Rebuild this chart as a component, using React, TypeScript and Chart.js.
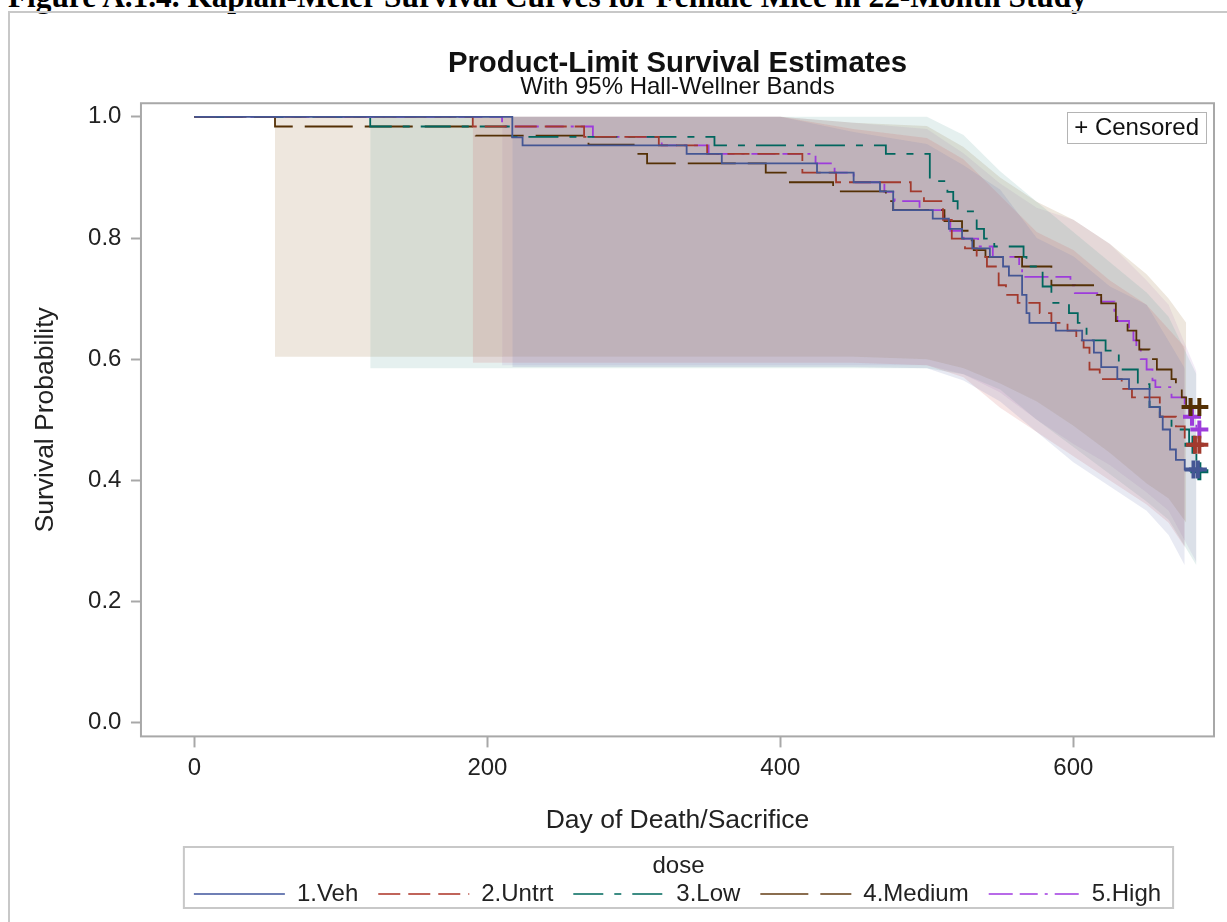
import React, { useEffect, useRef } from "react";
import { Chart, registerables } from "chart.js";

Chart.register(...registerables);

// ---------- data ----------
const groupNames = ["1.Veh", "2.Untrt", "3.Low", "4.Medium", "5.High"];
const xTickValues = [0, 200, 400, 600];
const yTickValues = [0, 0.2, 0.4, 0.6, 0.8, 1.0];

// Kaplan-Meier step points (day of event, survival after event)
const vehDays = [0, 217, 224, 336, 360, 425, 450, 468, 477, 504, 515, 524, 531, 543, 552, 556, 565, 568, 570, 588, 606, 614, 619, 630, 638, 652, 659, 661, 666, 670, 676, 685];
const vehSurv = [1.0, 0.966, 0.953, 0.939, 0.923, 0.908, 0.892, 0.877, 0.846, 0.832, 0.815, 0.799, 0.783, 0.769, 0.753, 0.738, 0.706, 0.676, 0.66, 0.647, 0.631, 0.611, 0.587, 0.567, 0.551, 0.521, 0.505, 0.484, 0.451, 0.434, 0.418, 0.418];
const untDays = [0, 190, 266, 317, 350, 415, 438, 489, 498, 511, 517, 526, 534, 541, 549, 554, 562, 577, 585, 596, 602, 607, 611, 618, 633, 640, 659, 670, 676, 686];
const untSurv = [1.0, 0.984, 0.967, 0.953, 0.939, 0.908, 0.892, 0.877, 0.861, 0.83, 0.799, 0.783, 0.769, 0.753, 0.722, 0.706, 0.693, 0.676, 0.66, 0.647, 0.631, 0.619, 0.583, 0.567, 0.551, 0.537, 0.505, 0.489, 0.459, 0.459];
const lowDays = [0, 120, 217, 355, 472, 502, 514, 518, 521, 534, 539, 546, 566, 568, 579, 585, 597, 603, 609, 622, 631, 644, 652, 659, 667, 679, 684, 686];
const lowSurv = [1.0, 0.984, 0.967, 0.953, 0.939, 0.894, 0.876, 0.861, 0.844, 0.815, 0.799, 0.786, 0.769, 0.753, 0.72, 0.693, 0.676, 0.66, 0.631, 0.614, 0.583, 0.559, 0.521, 0.505, 0.484, 0.459, 0.415, 0.415];
const medDays = [0, 55, 192, 269, 301, 309, 390, 405, 436, 472, 477, 512, 524, 529, 532, 540, 565, 585, 616, 619, 629, 637, 643, 645, 652, 657, 667, 670, 674, 677, 686];
const medSurv = [1.0, 0.984, 0.969, 0.954, 0.939, 0.923, 0.908, 0.892, 0.877, 0.861, 0.846, 0.828, 0.812, 0.796, 0.78, 0.769, 0.753, 0.722, 0.706, 0.692, 0.663, 0.647, 0.631, 0.616, 0.6, 0.583, 0.567, 0.551, 0.537, 0.521, 0.521];
const higDays = [0, 210, 272, 319, 351, 424, 437, 450, 471, 478, 495, 512, 516, 525, 535, 545, 563, 565, 598, 601, 619, 628, 630, 638, 641, 643, 646, 650, 654, 656, 667, 676, 679, 684, 686];
const higSurv = [1.0, 0.984, 0.967, 0.953, 0.939, 0.923, 0.908, 0.892, 0.876, 0.861, 0.846, 0.828, 0.812, 0.799, 0.786, 0.769, 0.753, 0.736, 0.722, 0.709, 0.695, 0.676, 0.663, 0.647, 0.631, 0.616, 0.6, 0.583, 0.565, 0.554, 0.537, 0.521, 0.505, 0.484, 0.484];

// censored observations
const vehCensDays = [682, 685];
const vehCensSurv = [0.418, 0.418];
const untCensDays = [683, 686];
const untCensSurv = [0.459, 0.459];
const lowCensDays = [682, 686];
const lowCensSurv = [0.459, 0.415];
const medCensDays = [680, 686];
const medCensSurv = [0.521, 0.521];
const higCensDays = [681, 686];
const higCensSurv = [0.505, 0.484];

// Hall-Wellner bands
const vehBandDays = [217, 400, 450, 500, 525, 550, 575, 600, 625, 650, 665, 676];
const vehBandHi = [1.0, 1.0, 0.975, 0.955, 0.92, 0.88, 0.8, 0.77, 0.72, 0.69, 0.63, 0.585];
const vehBandLo = [0.587, 0.587, 0.587, 0.585, 0.565, 0.53, 0.48, 0.43, 0.39, 0.35, 0.31, 0.26];
const untBandDays = [190, 400, 450, 500, 525, 550, 575, 600, 625, 650, 665, 676];
const untBandHi = [1.0, 1.0, 0.98, 0.965, 0.93, 0.87, 0.81, 0.78, 0.73, 0.69, 0.65, 0.62];
const untBandLo = [0.594, 0.594, 0.594, 0.59, 0.57, 0.52, 0.48, 0.44, 0.4, 0.36, 0.33, 0.29];
const lowBandDays = [120, 400, 450, 500, 525, 550, 575, 600, 625, 650, 665, 684];
const lowBandHi = [1.0, 1.0, 1.0, 1.0, 0.97, 0.91, 0.86, 0.81, 0.76, 0.71, 0.67, 0.575];
const lowBandLo = [0.585, 0.585, 0.585, 0.585, 0.575, 0.55, 0.5, 0.455, 0.41, 0.365, 0.335, 0.26];
const medBandDays = [55, 400, 450, 500, 525, 550, 575, 600, 625, 650, 665, 677];
const medBandHi = [1.0, 1.0, 0.99, 0.985, 0.95, 0.9, 0.86, 0.83, 0.79, 0.74, 0.7, 0.66];
const medBandLo = [0.604, 0.604, 0.604, 0.6, 0.585, 0.56, 0.53, 0.49, 0.445, 0.395, 0.37, 0.33];
const higBandDays = [210, 400, 450, 500, 525, 550, 575, 600, 625, 650, 665, 684];
const higBandHi = [1.0, 1.0, 0.99, 0.98, 0.94, 0.89, 0.85, 0.83, 0.79, 0.73, 0.69, 0.58];
const higBandLo = [0.59, 0.59, 0.59, 0.59, 0.575, 0.545, 0.5, 0.46, 0.425, 0.38, 0.35, 0.265];

// ---------- styles ----------
const lineColors = ["#445694", "#A23A2E", "#01665E", "#543005", "#9D3CDB"];
const legendColors = ["#6f7fb5", "#c0645a", "#3d8d84", "#8a6d4f", "#b86ae8"];
const bandColors = [
  "rgba(111,126,179,0.16)",
  "rgba(208,91,91,0.16)",
  "rgba(102,165,160,0.17)",
  "rgba(169,134,91,0.2)",
  "rgba(182,137,205,0.16)",
];
const dashes: number[][] = [[], [22, 8], [30, 11, 7, 11], [48, 12], [24, 7, 18, 7, 3, 7]];
const FONT = '"Liberation Sans", Arial, sans-serif';

const curves = [
  { days: vehDays, surv: vehSurv, cd: vehCensDays, cs: vehCensSurv, bd: vehBandDays, bh: vehBandHi, bl: vehBandLo },
  { days: untDays, surv: untSurv, cd: untCensDays, cs: untCensSurv, bd: untBandDays, bh: untBandHi, bl: untBandLo },
  { days: lowDays, surv: lowSurv, cd: lowCensDays, cs: lowCensSurv, bd: lowBandDays, bh: lowBandHi, bl: lowBandLo },
  { days: medDays, surv: medSurv, cd: medCensDays, cs: medCensSurv, bd: medBandDays, bh: medBandHi, bl: medBandLo },
  { days: higDays, surv: higSurv, cd: higCensDays, cs: higCensSurv, bd: higBandDays, bh: higBandHi, bl: higBandLo },
];

const pts = (xs: number[], ys: number[]) => xs.map((x, i) => ({ x, y: ys[i] }));

const decorPlugin = {
  id: "decor",
  afterDraw(chart: any) {
    const { ctx, chartArea: a } = chart;
    ctx.save();
    // plot frame
    ctx.strokeStyle = "#a8a8a8";
    ctx.lineWidth = 2;
    ctx.strokeRect(a.left, a.top, a.right - a.left, a.bottom - a.top);
    // censored inset legend
    ctx.font = `24px ${FONT}`;
    const txt = "+ Censored";
    const tw = ctx.measureText(txt).width;
    const bx1 = a.right - 8;
    const bx0 = bx1 - tw - 14;
    const by0 = a.top + 9;
    const by1 = by0 + 31;
    ctx.lineWidth = 1;
    ctx.strokeStyle = "#b4b4b4";
    ctx.strokeRect(Math.round(bx0) + 0.5, Math.round(by0) + 0.5, Math.round(bx1 - bx0), Math.round(by1 - by0));
    ctx.fillStyle = "#111";
    ctx.textBaseline = "middle";
    ctx.textAlign = "left";
    ctx.fillText(txt, bx0 + 7, (by0 + by1) / 2 + 1);
    // legend border and title
    const hb = chart.legend && chart.legend.legendHitBoxes;
    if (hb && hb.length) {
      const last = hb[hb.length - 1];
      const left = hb[0].left - 10;
      const right = last.left + last.width + 12;
      const cy = hb[0].top + hb[0].height / 2;
      const top = cy - 47;
      const bottom = cy + 14;
      ctx.strokeStyle = "#c8c8c8";
      ctx.lineWidth = 2;
      ctx.strokeRect(left, top, right - left, bottom - top);
      ctx.fillStyle = "#222";
      ctx.textAlign = "center";
      ctx.font = `24px ${FONT}`;
      ctx.fillText("dose", (left + right) / 2, cy - 28);
    }
    ctx.restore();
  },
};

const App = () => {
  const ref = useRef<HTMLCanvasElement>(null);

  useEffect(() => {
    if (!ref.current) return;
    Chart.defaults.font.family = FONT;
    Chart.defaults.color = "#222";

    const datasets: any[] = [];
    // bands (drawn beneath)
    curves.forEach((c, i) => {
      datasets.push({
        label: `band-lo-${i}`,
        data: pts(c.bd, c.bl),
        borderColor: "rgba(0,0,0,0)",
        borderWidth: 0,
        pointRadius: 0,
        fill: false,
        order: 3,
      });
      datasets.push({
        label: `band-hi-${i}`,
        data: pts(c.bd, c.bh),
        borderColor: "rgba(0,0,0,0)",
        borderWidth: 0,
        pointRadius: 0,
        backgroundColor: bandColors[i],
        fill: "-1",
        order: 3,
      });
    });
    // survival curves
    curves.forEach((c, i) => {
      datasets.push({
        label: groupNames[i],
        data: pts(c.days, c.surv),
        stepped: "before",
        borderColor: lineColors[i],
        borderWidth: 1.8,
        borderDash: dashes[i],
        pointRadius: 0,
        fill: false,
        order: 2,
      });
    });
    // censored markers
    curves.forEach((c, i) => {
      datasets.push({
        label: `cens-${i}`,
        data: pts(c.cd, c.cs),
        showLine: false,
        pointStyle: "cross",
        pointRadius: 9,
        pointBorderWidth: 4,
        borderColor: lineColors[i],
        backgroundColor: lineColors[i],
        fill: false,
        order: 1,
      });
    });

    const chart = new Chart(ref.current, {
      type: "line",
      data: { datasets },
      options: {
        animation: false,
        responsive: true,
        maintainAspectRatio: false,
        events: [],
        layout: { padding: { top: 0, left: 0, right: 12, bottom: 6 } },
        scales: {
          x: {
            type: "linear",
            min: -36.5,
            max: 696,
            afterBuildTicks: (axis: any) => {
              axis.ticks = xTickValues.map((v) => ({ value: v }));
            },
            ticks: { font: { size: 24 }, color: "#222", padding: 6.6, callback: (v: any) => String(v) },
            grid: { drawOnChartArea: false, drawTicks: true, tickLength: 11, tickWidth: 2, tickColor: "#a8a8a8" },
            border: { display: false },
            title: {
              display: true,
              text: "Day of Death/Sacrifice",
              font: { size: 26.5 },
              color: "#222",
              padding: { top: 15.4, bottom: 25.4 },
            },
          },
          y: {
            type: "linear",
            min: -0.0225,
            max: 1.0224,
            afterBuildTicks: (axis: any) => {
              axis.ticks = yTickValues.map((v) => ({ value: v }));
            },
            ticks: { font: { size: 24 }, color: "#222", padding: 9.5, callback: (v: any) => Number(v).toFixed(1) },
            grid: { drawOnChartArea: false, drawTicks: true, tickLength: 10, tickWidth: 2, tickColor: "#a8a8a8" },
            border: { display: false },
            title: {
              display: true,
              text: "Survival Probability",
              font: { size: 26.5 },
              color: "#222",
              padding: { top: 20, bottom: 16.8 },
            },
          },
        },
        plugins: {
          title: {
            display: true,
            text: "Product-Limit Survival Estimates",
            fullSize: false,
            color: "#111",
            font: { size: 29.3, weight: "bold", lineHeight: 0.8 },
            padding: { top: 39.4, bottom: 0 },
          },
          subtitle: {
            display: true,
            text: "With 95% Hall-Wellner Bands",
            fullSize: false,
            color: "#111",
            font: { size: 24, lineHeight: 1 },
            padding: { top: 0, bottom: 3.4 },
          },
          legend: {
            display: true,
            position: "bottom",
            fullSize: false,
            align: "center",
            labels: {
              usePointStyle: true,
              pointStyleWidth: 91,
              padding: 20,
              font: { size: 24 },
              color: "#222",
              generateLabels: () =>
                groupNames.map((name, i) => ({
                  text: name,
                  strokeStyle: legendColors[i],
                  fillStyle: legendColors[i],
                  lineWidth: 1.8,
                  lineDash: dashes[i],
                  pointStyle: "line",
                  hidden: false,
                  fontColor: "#222",
                  datasetIndex: 10 + i,
                })),
            },
          },
          tooltip: { enabled: false },
        },
      } as any,
      plugins: [decorPlugin],
    });
    return () => chart.destroy();
  }, []);

  return (
    <div style={{ position: "fixed", left: 0, top: 0, width: "100vw", height: "100vh", overflow: "hidden", background: "#fff" }}>
      <div
        style={{
          position: "absolute",
          left: 8,
          top: -19,
          fontFamily: '"Liberation Serif", "Times New Roman", serif',
          fontWeight: "bold",
          fontSize: 31.3,
          lineHeight: "31.5px",
          whiteSpace: "nowrap",
          color: "#000",
        }}
      >
        Figure A.1.4. Kaplan-Meier Survival Curves for Female Mice in 22-Month Study
      </div>
      <div
        style={{
          position: "absolute",
          left: 8,
          top: 11,
          width: 1400,
          height: 1100,
          borderLeft: "2px solid #c8c8c8",
          borderTop: "2px solid #c8c8c8",
        }}
      />
      <div style={{ position: "absolute", left: 10, top: 13, width: 1217, height: 909 }}>
        <canvas ref={ref} />
      </div>
    </div>
  );
};

export default App;
